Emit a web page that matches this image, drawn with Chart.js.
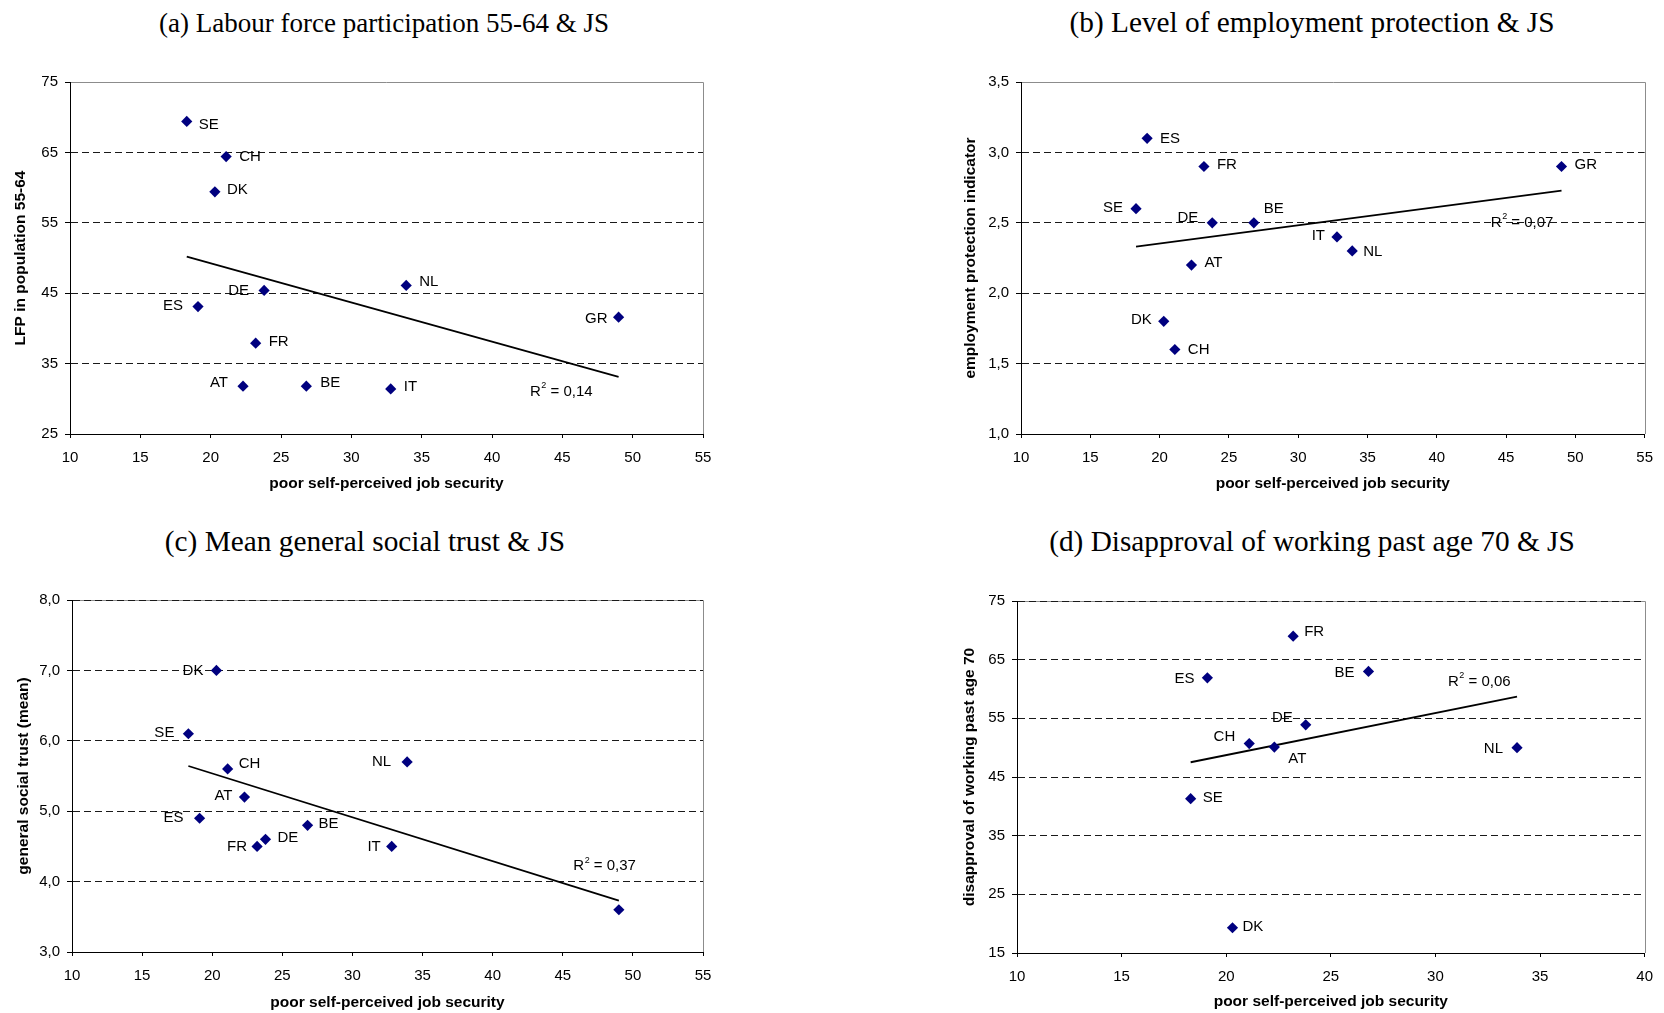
<!DOCTYPE html>
<html>
<head>
<meta charset="utf-8">
<script src="https://cdn.jsdelivr.net/npm/chart.js@4.4.0/dist/chart.umd.min.js"></script>
<style>
	body { margin: 0; background: #fff; width: 1664px; height: 1013px; position: relative; overflow: hidden; }
	canvas { position: absolute; }
	.ttl { position: absolute; width: 800px; text-align: center; white-space: nowrap; color: #000;
		font: 29.3px "Liberation Serif", "Times New Roman", serif; line-height: 29.3px; }
</style>
</head>
<body>
<div class="ttl" style="left:-16px; top:10px; font-size:27px; line-height:27px">(a) Labour force participation 55-64 &amp; JS</div>
<div class="ttl" style="left:912px; top:8px">(b) Level of employment protection &amp; JS</div>
<div class="ttl" style="left:-35px; top:527px">(c) Mean general social trust &amp; JS</div>
<div class="ttl" style="left:912px; top:527px">(d) Disapproval of working past age 70 &amp; JS</div>

<canvas id="panelA" width="760" height="450" style="left:0; top:50px"></canvas>
<canvas id="panelB" width="764" height="450" style="left:900px; top:50px"></canvas>
<canvas id="panelC" width="760" height="453" style="left:0; top:560px"></canvas>
<canvas id="panelD" width="764" height="453" style="left:900px; top:560px"></canvas>

<script>
// countries and their values
const countries = ["AT", "BE", "CH", "DE", "DK", "ES", "FR", "GR", "IT", "NL", "SE"];
const jobInsecurity = [22.3, 26.8, 21.1, 23.8, 20.3, 19.1, 23.2, 49.0, 32.8, 33.9, 18.3];
const labourForce5564 = [31.8, 31.8, 64.4, 45.4, 59.4, 43.1, 37.9, 41.6, 31.4, 46.1, 69.4];
const employmentProtection = [2.2, 2.5, 1.6, 2.5, 1.8, 3.1, 2.9, 2.9, 2.4, 2.3, 2.6];
const socialTrust = [5.2, 4.8, 5.6, 4.6, 7.0, 4.9, 4.5, 3.6, 4.5, 5.7, 6.1];
const disapproval70 = [50.1, 63.0, 50.7, 53.9, 19.3, 61.9, 69.0, null, null, 50.0, 41.3];
const rSquared = ["0,14", "0,07", "0,37", "0,06"];

// tick values
const xTicks55 = [10, 15, 20, 25, 30, 35, 40, 45, 50, 55];
const xTicks40 = [10, 15, 20, 25, 30, 35, 40];
const lfpTicks = [25, 35, 45, 55, 65, 75];
const eplTicks = [1.0, 1.5, 2.0, 2.5, 3.0, 3.5];
const trustTicks = [3, 4, 5, 6, 7, 8];
const disapprovalTicks = [15, 25, 35, 45, 55, 65, 75];

const SANS = '"Liberation Sans", Arial, sans-serif';
const X_TITLE = "poor self-perceived job security";

// label offsets (px) from each marker, same order as countries; dx<0 = text to the left
const labelOffsetsA = [[-15, -3], [14, -3], [13, 0], [-15, 0], [12, -2], [-15, -1], [13, -1], [-11, 2], [13, -2], [13, -4], [12, 3]];
const labelOffsetsB = [[13, -2], [10, -14], [13, 0], [-14, -5], [-12, -2], [13, 1], [13, -2], [13, -2], [-12, -1], [11, 1], [-13, -1]];
const labelOffsetsC = [[-12, -1], [11, -1], [11, -5], [12, -2], [-13, 0], [-16, 0], [-10, 0], null, [-11, 0], [-16, 0], [-14, -1]];
const labelOffsetsD = [[14, 12], [-14, 1], [-14, -7], [-13, -7], [10, -1], [-13, 1], [11, -4], null, null, [-14, 1], [12, -1]];

// grey frame on top/right, point labels and the R² note
const panelDecor = {
	id: "panelDecor",
	beforeDraw(chart) {
		const { ctx, chartArea: a } = chart;
		ctx.save();
		ctx.strokeStyle = "#8c8c8c";
		ctx.lineWidth = 1;
		ctx.beginPath();
		ctx.moveTo(a.left, Math.round(a.top) + 0.5);
		ctx.lineTo(Math.round(a.right) + 0.5, Math.round(a.top) + 0.5);
		ctx.lineTo(Math.round(a.right) + 0.5, a.bottom);
		ctx.stroke();
		ctx.restore();
	},
	afterDatasetsDraw(chart, args, opts) {
		const { ctx } = chart;
		const ds = chart.data.datasets[1];
		const meta = chart.getDatasetMeta(1);
		ctx.save();
		ctx.fillStyle = "#000";
		ctx.textBaseline = "middle";
		ctx.font = "15px " + SANS;
		meta.data.forEach((el, i) => {
			const p = ds.data[i];
			if (!p.off) return;
			ctx.textAlign = p.off[0] < 0 ? "right" : "left";
			ctx.fillText(p.label, el.x + p.off[0], el.y + p.off[1]);
		});
		// R² text
		let x = chart.scales.x.getPixelForValue(opts.at[0]);
		const y = chart.scales.y.getPixelForValue(opts.at[1]);
		ctx.textAlign = "left";
		ctx.fillText("R", x, y);
		x += ctx.measureText("R").width + 0.5;
		ctx.font = "9px " + SANS;
		ctx.fillText("2", x, y - 6);
		x += ctx.measureText("2").width;
		ctx.font = "15px " + SANS;
		ctx.fillText(" = " + opts.text, x, y);
		ctx.restore();
	}
};

function makePanel(id, cfg) {
	const pts = [];
	countries.forEach((c, i) => {
		if (cfg.values[i] === null) return;
		pts.push({ x: jobInsecurity[i], y: cfg.values[i], label: c, off: cfg.offsets[i] });
	});

	// least-squares trend line between the lowest and highest x
	const n = pts.length;
	const mx = pts.reduce((s, p) => s + p.x, 0) / n;
	const my = pts.reduce((s, p) => s + p.y, 0) / n;
	let sxy = 0, sxx = 0;
	pts.forEach(p => { sxy += (p.x - mx) * (p.y - my); sxx += (p.x - mx) ** 2; });
	const slope = sxy / sxx;
	const xs = pts.map(p => p.x);
	const x0 = Math.min(...xs), x1 = Math.max(...xs);
	const trend = [x0, x1].map(v => ({ x: v, y: my + slope * (v - mx) }));

	const yMax = cfg.yTicks[cfg.yTicks.length - 1];

	new Chart(document.getElementById(id), {
		type: "scatter",
		data: {
			datasets: [
				{
					type: "line",
					data: trend,
					borderColor: "#000",
					borderWidth: 1.8,
					pointRadius: 0,
					fill: false,
					order: 2
				},
				{
					data: pts,
					pointStyle: "rectRot",
					pointRadius: 5.6,
					backgroundColor: "#00007f",
					borderColor: "#00007f",
					borderWidth: 0,
					order: 1
				}
			]
		},
		options: {
			responsive: false,
			animation: false,
			devicePixelRatio: 1,
			events: [],
			layout: { padding: { left: 0, top: cfg.padTop, right: cfg.padRight, bottom: 0 } },
			plugins: {
				legend: { display: false },
				tooltip: { enabled: false },
				panelDecor: { at: cfg.r2At, text: cfg.r2 }
			},
			scales: {
				x: {
					type: "linear",
					min: cfg.xTicks[0],
					max: cfg.xTicks[cfg.xTicks.length - 1],
					afterBuildTicks: s => { s.ticks = cfg.xTicks.map(v => ({ value: v })); },
					afterFit: s => { s.height = cfg.xAxisH; },
					grid: { drawOnChartArea: false, drawTicks: true, tickLength: 4, color: "#000", tickColor: "#000" },
					border: { color: "#000", width: 1 },
					ticks: { color: "#000", font: { family: SANS, size: 15 }, padding: 11, maxRotation: 0, autoSkip: false },
					title: {
						display: true, text: X_TITLE, color: "#000",
						font: { family: SANS, size: 15.5, weight: "bold" },
						padding: { top: 0, bottom: cfg.xTitlePad }
					}
				},
				y: {
					type: "linear",
					min: cfg.yTicks[0],
					max: yMax,
					afterBuildTicks: s => { s.ticks = cfg.yTicks.map(v => ({ value: v })); },
					afterFit: s => { s.width = cfg.yAxisW; },
					grid: {
						color: c => (c.tick && c.tick.value === yMax && !cfg.topDashed) ? "rgba(0,0,0,0)" : "#1a1a1a",
						tickColor: "#000",
						tickLength: 5,
						tickBorderDash: [],
						lineWidth: 1
					},
					border: { color: "#000", width: 1, dash: [7, 4] },
					ticks: {
						color: "#000",
						font: { family: SANS, size: 15 },
						padding: 7,
						callback: v => v.toFixed(cfg.dec).replace(".", ",")
					},
					title: {
						display: true, text: cfg.yTitle, color: "#000",
						font: { family: SANS, size: 15.5, weight: "bold" },
						padding: { top: cfg.yTitlePad, bottom: 0 }
					}
				}
			}
		},
		plugins: [panelDecor]
	});
}

makePanel("panelA", {
	values: labourForce5564, offsets: labelOffsetsA, xTicks: xTicks55, yTicks: lfpTicks, dec: 0,
	yTitle: "LFP in population 55-64", r2: rSquared[0], r2At: [42.7, 31.0], topDashed: false,
	padTop: 32, padRight: 57, xAxisH: 66, xTitlePad: 6.7, yAxisW: 70, yTitlePad: 11.9
});
makePanel("panelB", {
	values: employmentProtection, offsets: labelOffsetsB, xTicks: xTicks55, yTicks: eplTicks, dec: 1,
	yTitle: "employment protection indicator", r2: rSquared[1], r2At: [43.9, 2.5], topDashed: false,
	padTop: 32, padRight: 13, xAxisH: 66, xTitlePad: 6.7, yAxisW: 121, yTitlePad: 61.7
});
makePanel("panelC", {
	values: socialTrust, offsets: labelOffsetsC, xTicks: xTicks55, yTicks: trustTicks, dec: 1,
	yTitle: "general social trust (mean)", r2: rSquared[2], r2At: [45.75, 4.22], topDashed: true,
	padTop: 40, padRight: 57, xAxisH: 61, xTitlePad: 0.7, yAxisW: 72, yTitlePad: 14
});
makePanel("panelD", {
	values: disapproval70, offsets: labelOffsetsD, xTicks: xTicks40, yTicks: disapprovalTicks, dec: 0,
	yTitle: "disapproval of working past age 70", r2: rSquared[3], r2At: [30.6, 61.3], topDashed: true,
	padTop: 41, padRight: 13, xAxisH: 60, xTitlePad: 1.7, yAxisW: 117, yTitlePad: 60.7
});
</script>
</body>
</html>
